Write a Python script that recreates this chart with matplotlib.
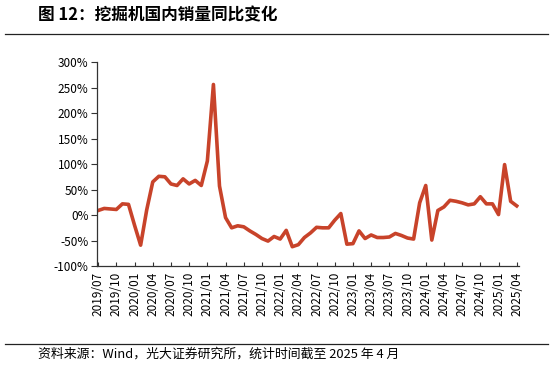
import matplotlib
matplotlib.use('Agg')
import matplotlib.pyplot as plt
from matplotlib.lines import Line2D
import pandas as pd

plt.rcParams['font.family'] = ['Noto Sans CJK SC', 'DejaVu Sans']

# ── data ─────────────────────────────────────────────────────────────
months = pd.date_range('2019-07-01', periods=70, freq='MS').strftime('%Y/%m').tolist()
yoy = [
    9, 13, 12, 11, 22, 21,            # 2019/07-12
    -20, -59, 10, 65, 76, 75,         # 2020/01-06
    61, 58, 71, 61, 68, 58,           # 2020/07-12
    106, 256, 57, -5, -25, -21,       # 2021/01-06
    -23, -31, -38, -46, -51, -42,     # 2021/07-12
    -47, -30, -62, -58, -44, -35,     # 2022/01-06
    -24, -25, -25, -10, 3, -57,       # 2022/07-12
    -56, -31, -46, -39, -44, -44,     # 2023/01-06
    -43, -36, -40, -45, -47, 24,      # 2023/07-12
    58, -49, 9, 16, 29, 27,           # 2024/01-06
    24, 20, 22, 36, 22, 22,           # 2024/07-12
    1, 99, 27, 18,                    # 2025/01-04
]
yticks = [-100, -50, 0, 50, 100, 150, 200, 250, 300]

title = '图 12：挖掘机国内销量同比变化'
source = '资料来源：Wind，光大证券研究所，统计时间截至 2025 年 4 月'

# ── figure ───────────────────────────────────────────────────────────
fig = plt.figure(figsize=(5.54, 3.65), dpi=100)
ax = fig.add_axes([0.175, 0.271, 0.761, 0.559])

x = list(range(len(months)))
ax.plot(x, yoy, color='#C8432A', lw=2.6, solid_joinstyle='round')

ax.set_ylim(-100, 300)
ax.set_yticks(yticks)
ax.set_yticklabels([f'{v}%' for v in yticks])
ax.set_xlim(-0.2, 69.3)
ax.set_xticks(x[::3])
ax.set_xticklabels(months[::3], rotation=90)

for s in ['top', 'right']:
    ax.spines[s].set_visible(False)
for s in ['left', 'bottom']:
    ax.spines[s].set_color('#333333')
    ax.spines[s].set_linewidth(0.9)
ax.tick_params(axis='y', direction='out', length=4, width=0.8,
               colors='#333333', labelcolor='black', labelsize=8.5, pad=2)
ax.tick_params(axis='x', direction='in', length=3, width=0.8,
               colors='#333333', labelcolor='black', labelsize=8.5, pad=4)

# ── title, rules and source ──────────────────────────────────────────
fig.text(38 / 554, 1 - 15 / 365, title, ha='left', va='center',
         fontsize=12, fontweight='bold')
fig.add_artist(Line2D([5 / 554, 548 / 554], [1 - 33.5 / 365] * 2,
                      transform=fig.transFigure, color='#222222', lw=0.9))
fig.add_artist(Line2D([5 / 554, 548 / 554], [1 - 344 / 365] * 2,
                      transform=fig.transFigure, color='#222222', lw=0.9))
fig.text(38 / 554, 1 - 354 / 365, source, ha='left', va='center',
         fontsize=9.3)

fig.savefig('out.png', dpi=100, facecolor='white')
